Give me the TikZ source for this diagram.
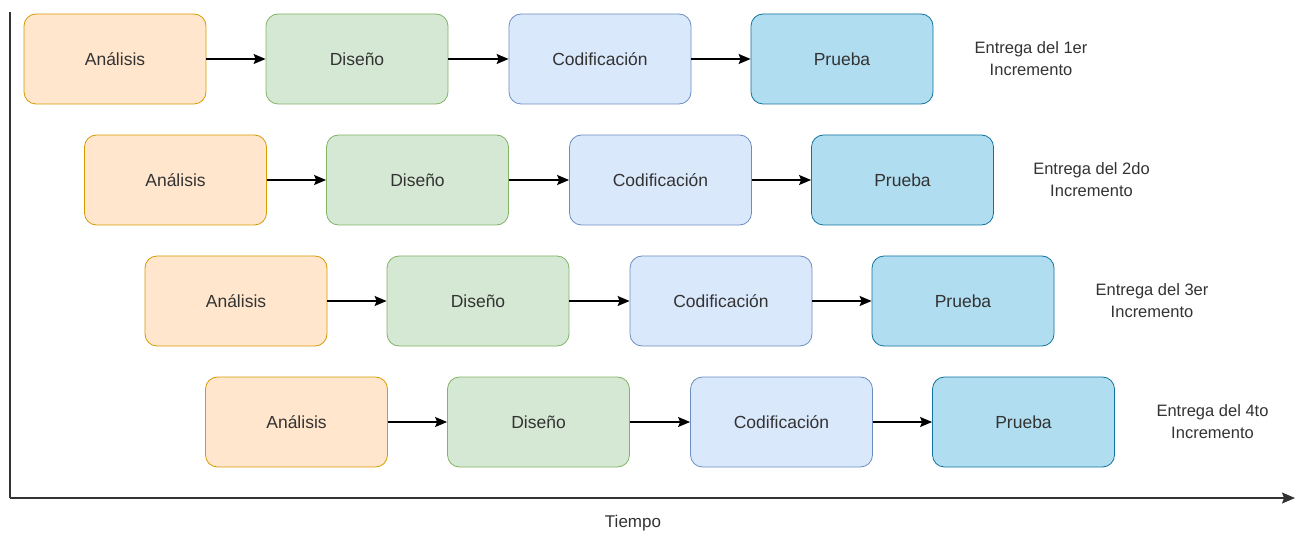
\documentclass[tikz,border=0pt]{standalone}
\usepackage{fontspec}
\setmainfont{Liberation Sans}
\usetikzlibrary{arrows.meta}
\definecolor{orF}{HTML}{FFE6CC}\definecolor{orD}{HTML}{D79B00}
\definecolor{grF}{HTML}{D5E8D4}\definecolor{grD}{HTML}{82B366}
\definecolor{blF}{HTML}{DAE8FC}\definecolor{blD}{HTML}{6C8EBF}
\definecolor{cyF}{HTML}{B1DDF0}\definecolor{cyD}{HTML}{10739E}
\definecolor{txt}{HTML}{333333}
\tikzset{
  phase/.style={rounded corners=12pt, minimum width=182pt, minimum height=90pt, line width=0.8pt, inner sep=0pt, text=txt, font=\fontsize{17.5}{21}\selectfont},
  ana/.style={phase, fill=orF, draw=orD},
  dis/.style={phase, fill=grF, draw=grD},
  cod/.style={phase, fill=blF, draw=blD},
  pru/.style={phase, fill=cyF, draw=cyD},
  flow/.style={line width=1.3pt, -{Stealth[length=12pt,width=10pt,inset=2pt]}},
  note/.style={align=center, text=txt, font=\fontsize{16.5}{22}\selectfont},
  axis/.style={line width=1.3pt, draw=black!80}
}
\begin{document}
\begin{tikzpicture}[x=1pt,y=-1pt]
\useasboundingbox (0,0) rectangle (1298,537);
\foreach \r/\ord in {0/1er,1/2do,2/3er,3/4to}{
  \pgfmathsetmacro{\dx}{60.5*\r}
  \pgfmathsetmacro{\dy}{121*\r}
  \begin{scope}[shift={(\dx,\dy)}]
    \node[ana] (a\r) at (115,59) {Análisis};
    \node[dis] (d\r) at (357,59) {Diseño};
    \node[cod] (c\r) at (600,59) {Codificación};
    \node[pru] (p\r) at (842,59) {Prueba};
    \node[note] (e\r) at (1031,59) {Entrega del \ord\\Incremento};
  \end{scope}
  \draw[flow] (a\r) -- (d\r);
  \draw[flow] (d\r) -- (c\r);
  \draw[flow] (c\r) -- (p\r);
}
\coordinate (top) at (10,12);
\coordinate (orig) at (10,498);
\coordinate (tend) at (1295,498);
\draw[axis] (top) -- (orig);
\draw[axis, -{Stealth[length=13pt,width=11pt,inset=2pt]}] (orig) -- (tend);
\node[text=txt, font=\fontsize{17}{20}\selectfont] (tiempo) at (633,523) {Tiempo};
\end{tikzpicture}
\end{document}
